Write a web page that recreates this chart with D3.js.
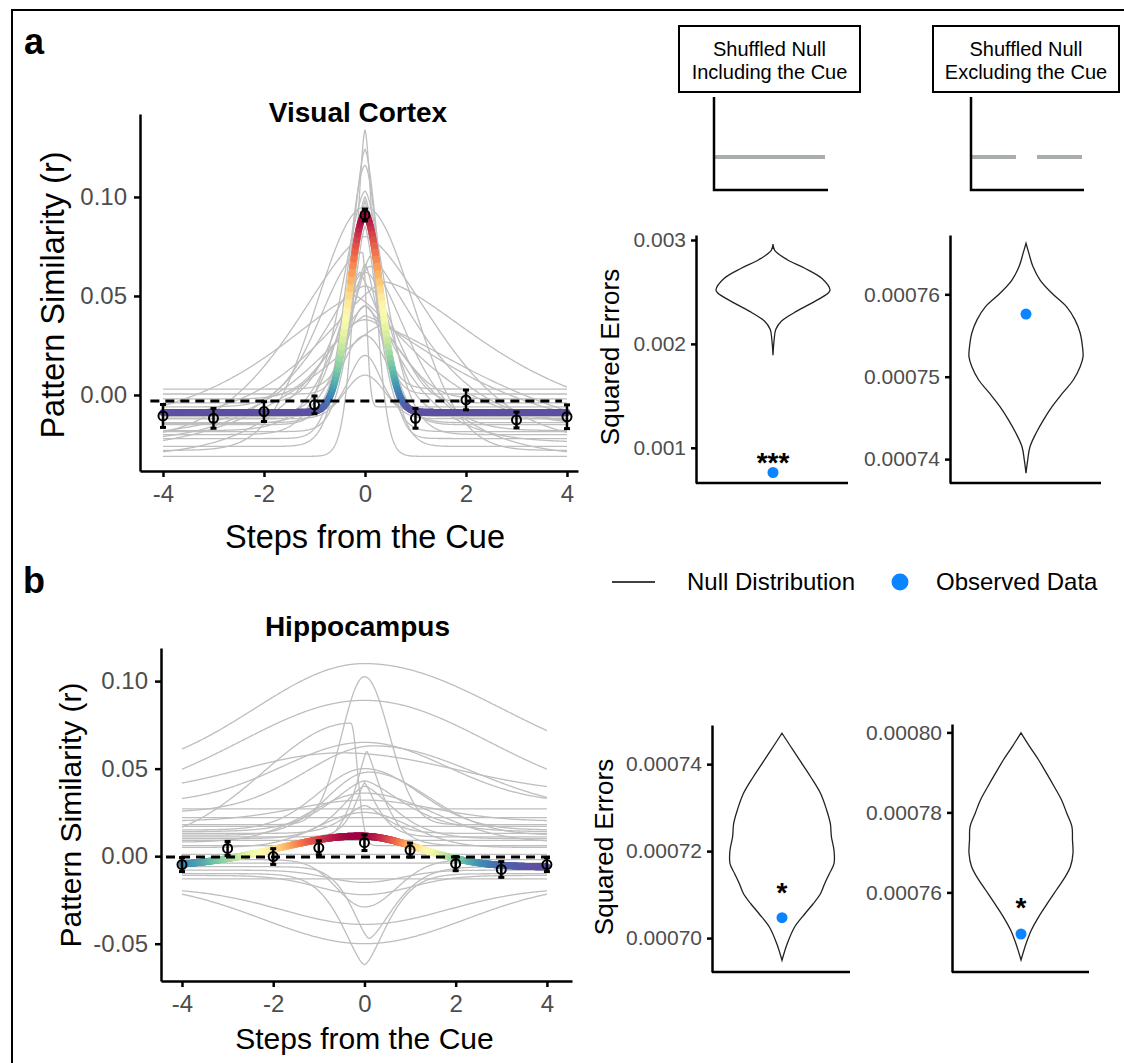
<!DOCTYPE html>
<html>
<head>
<meta charset="utf-8">
<script src="https://cdn.jsdelivr.net/npm/d3@7"></script>
<style>
  body { margin: 0; background: #fff; }
  text { font-family: "Liberation Sans", Arial, sans-serif; }
</style>
</head>
<body>
<div id="chart"></div>
<script>
// ---- data ----
const steps = [-4, -3, -2, -1, 0, 1, 2, 3, 4];

// group means and error bars
const visMean = [-0.0106, -0.0118, -0.0084, -0.005, 0.0909, -0.0118, -0.0025, -0.0126, -0.011];
const visErr = [0.0058, 0.005, 0.005, 0.0045, 0.003, 0.005, 0.005, 0.004, 0.006];
const hipMean = [-0.0048, 0.0044, -0.0002, 0.0048, 0.0077, 0.0035, -0.0043, -0.0076, -0.0048];
const hipErr = [0.004, 0.004, 0.0045, 0.004, 0.0045, 0.004, 0.004, 0.0045, 0.004];
const visChance = -0.003;
const hipChance = -0.0005;

// fitted curves: [baseline, peak, centre, width left, width right, shape]
const visFit = [-0.0088, 0.0909, 0, 0.31, 0.31, 2];
const hipFit = [-0.0062, 0.0115, -0.1, 1.8, 1.3, 2];

// per-subject fits, same columns
const visSubjects = [
  [-0.031, 0.134, 0, 0.18, 0.18, 1.6],
  [-0.026, 0.124, 0, 0.3, 0.3, 1.6],
  [-0.022, 0.116, 0, 0.35, 0.3, 1.8],
  [-0.020, 0.103, 0, 0.45, 0.4, 1.6],
  [-0.014, 0.100, 0, 0.3, 0.3, 1.5],
  [-0.028, 0.095, 0, 0.95, 0.95, 2],
  [-0.011, 0.098, 0, 0.22, 0.22, 1.4],
  [-0.006, 0.072, -0.05, 0.8, 0.08, 2],
  [-0.024, 0.080, 0, 1.3, 1.3, 1.6],
  [-0.018, 0.065, 0.1, 0.6, 0.7, 1.6],
  [0.003, 0.066, 0, 0.25, 0.25, 1.5],
  [-0.009, 0.062, 0, 0.5, 0.5, 2],
  [-0.013, 0.057, 0.4, 1.2, 1.8, 1.5],
  [-0.004, 0.055, 0, 0.6, 0.6, 2],
  [-0.016, 0.050, -0.2, 1.5, 1.1, 1.4],
  [0.0005, 0.045, 0, 0.35, 0.35, 2],
  [-0.021, 0.040, 0, 1.0, 1.6, 1.3],
  [-0.002, 0.038, 0, 0.7, 0.7, 2],
  [-0.029, 0.035, 0.3, 1.3, 2.0, 1.3],
  [-0.015, 0.030, 0, 0.5, 0.5, 2],
  [-0.008, 0.020, 0, 0.3, 0.3, 2],
  [-0.012, 0.010, 0, 0.4, 0.4, 2],
  [-0.024, 0.062, -0.1, 0.8, 0.6, 1.2],
  [-0.031, 0.045, 0, 0.9, 0.9, 1.3],
  [-0.0185, 0.085, 0, 0.25, 0.25, 1.5],
  [-0.0145, 0.070, 0.1, 0.4, 0.9, 1.4],
];

const hipSubjects = [
  [0.045, 0.110, 0, 2.4, 3.0, 2],
  [0.030, 0.089, 0, 2.7, 2.7, 2],
  [0.018, 0.1025, 0, 0.5, 0.55, 2],
  [0.006, 0.076, -0.3, 1.9, 0.15, 2],
  [0.030, 0.065, 0, 1.8, 1.8, 2],
  [0.025, 0.063, 0.2, 1.5, 2.2, 2],
  [0.035, 0.059, -0.5, 2.2, 2.5, 2],
  [0.015, 0.050, 0, 1.0, 1.2, 2],
  [0.012, 0.048, 0.1, 0.9, 1.3, 2],
  [0.014, 0.043, 0, 0.7, 0.8, 1.5],
  [0.010, 0.040, 0, 0.5, 0.6, 1.5],
  [0.008, 0.036, 0, 1.2, 1.5, 2],
  [0.020, 0.032, 0, 1.5, 1.5, 2],
  [0.027, 0.027, 0, 1, 1, 2],
  [0.017, 0.017, 0, 1, 1, 2],
  [0.013, 0.029, 0, 0.4, 0.4, 1.5],
  [0.005, 0.025, 0, 1.0, 1.0, 2],
  [0.001, 0.001, 0, 1, 1, 2],
  [0.022, 0.022, 0, 1, 1, 2],
  [-0.004, -0.004, 0, 1, 1, 2],
  [-0.008, -0.015, 0, 0.8, 0.8, 2],
  [-0.011, -0.022, 0, 1, 1, 2],
  [-0.015, -0.050, 0, 2.2, 2.2, 2],
  [-0.018, -0.039, 0, 1.8, 1.8, 2],
  [-0.010, -0.062, 0, 0.45, 0.45, 1.5],
  [-0.006, -0.047, 0.1, 0.35, 0.5, 1.5],
  [-0.002, -0.029, 0, 0.6, 0.7, 2],
  [0.009, 0.009, 0, 1, 1, 2],
  [0.006, 0.060, 0.05, 0.25, 0.3, 1.3],
  [0.011, 0.042, 0, 0.2, 0.25, 1.3],
  [-0.013, -0.013, 0, 1, 1, 2],
];

// null distributions (outline: value, relative density) and observed errors
const inclVisVals = [0.00296, 0.00290, 0.00281, 0.00273, 0.00263, 0.00252, 0.00249, 0.00239, 0.00230, 0.00222, 0.00214, 0.00204, 0.00189];
const inclVisDens = [0, 0.03, 0.25, 0.55, 0.86, 1.0, 0.97, 0.67, 0.37, 0.15, 0.05, 0.02, 0];
const exclVisVals = [0.0007662, 0.0007650, 0.0007634, 0.0007617, 0.0007601, 0.0007585, 0.0007569, 0.0007553, 0.0007537, 0.0007524, 0.0007512, 0.0007496, 0.0007480, 0.0007464, 0.0007448, 0.0007432, 0.0007415, 0.0007399, 0.0007383];
const exclVisDens = [0, 0.05, 0.12, 0.25, 0.46, 0.71, 0.86, 0.95, 0.99, 1.0, 0.95, 0.83, 0.64, 0.46, 0.31, 0.18, 0.07, 0.03, 0];
const inclHipVals = [0.0007471, 0.000744, 0.0007409, 0.0007371, 0.0007333, 0.0007294, 0.0007263, 0.0007233, 0.0007202, 0.0007171, 0.0007148, 0.0007125, 0.0007102, 0.0007079, 0.0007056, 0.0007025, 0.0006987, 0.0006949];
const inclHipDens = [0, 0.17, 0.34, 0.55, 0.74, 0.86, 0.93, 0.95, 1.0, 1.0, 0.91, 0.82, 0.74, 0.6, 0.44, 0.24, 0.1, 0];
const exclHipVals = [0.0007999, 0.0007964, 0.0007931, 0.0007898, 0.0007864, 0.0007831, 0.0007798, 0.0007764, 0.0007731, 0.0007698, 0.0007664, 0.0007639, 0.0007606, 0.0007573, 0.0007539, 0.0007506, 0.0007473, 0.0007431];
const exclHipDens = [0, 0.17, 0.34, 0.49, 0.64, 0.78, 0.88, 0.98, 0.99, 1.0, 0.95, 0.85, 0.68, 0.51, 0.34, 0.2, 0.1, 0];
const observed = { inclVis: 0.000762, exclVis: 0.0007576, inclHip: 0.0007047, exclHip: 0.0007496 };
const stars = { inclVis: "***", exclVis: "", inclHip: "*", exclHip: "*" };
// star annotation position in data units of each violin axis
const starAt = { inclVis: 0.000767, exclVis: 0, inclHip: 0.0007082, exclHip: 0.0007538 };

const visYTicks = [0, 0.05, 0.1];
const hipYTicks = [-0.05, 0, 0.05, 0.1];
const xTicks = [-4, -2, 0, 2, 4];

// ---- drawing ----
const W = 1124, H = 1063;
const FONT = '"Liberation Sans", Arial, sans-serif';
const svg = d3.select("#chart").append("svg")
  .attr("width", W).attr("height", H).style("background", "#fff");

svg.append("path").attr("d", "M12,1063V10H1124")
  .attr("fill", "none").attr("stroke", "#000").attr("stroke-width", 2);

svg.append("text").attr("x", 24).attr("y", 54).text("a")
  .attr("font-size", 36).attr("font-weight", "bold");
svg.append("text").attr("x", 23).attr("y", 593).text("b")
  .attr("font-size", 36).attr("font-weight", "bold");

const curveAt = (p, x) => {
  const [base, peak, c, sL, sR, pw] = p;
  const s = x < c ? sL : sR;
  return base + (peak - base) * Math.exp(-0.5 * Math.pow(Math.abs(x - c) / s, pw));
};
const grid = d3.range(-4, 4.0001, 0.02);

const styleAxis = (g, size) => {
  g.attr("font-family", FONT).attr("font-size", size);
  g.selectAll("path, line").attr("stroke", "#000").attr("stroke-width", 2.5);
  g.selectAll("text").attr("fill", "#4d4d4d");
};

function drawLinePanel(cfg) {
  const { x, y, yTicks, subjects, fit, mean, err, chance, dash, title, titleY, ylab, xlabY, labSize } = cfg;
  const g = svg.append("g");
  const line = d3.line().x((d) => x(d[0])).y((d) => y(d[1]));

  g.selectAll(".subj").data(subjects).join("path")
    .attr("d", (p) => line(grid.map((v) => [v, curveAt(p, v)])))
    .attr("fill", "none").attr("stroke", "#bebebe").attr("stroke-width", 1.3);

  const fy = grid.map((v) => [v, curveAt(fit, v)]);
  const [lo, hi] = d3.extent(fy, (d) => d[1]);
  const col = (v) => d3.interpolateSpectral(1 - (v - lo) / (hi - lo));
  g.selectAll(".seg").data(d3.pairs(fy)).join("line")
    .attr("x1", (d) => x(d[0][0])).attr("y1", (d) => y(d[0][1]))
    .attr("x2", (d) => x(d[1][0])).attr("y2", (d) => y(d[1][1]))
    .attr("stroke", (d) => col((d[0][1] + d[1][1]) / 2))
    .attr("stroke-width", 7).attr("stroke-linecap", "round");

  g.append("line")
    .attr("x1", x(dash[0])).attr("x2", x(dash[1]))
    .attr("y1", y(chance)).attr("y2", y(chance))
    .attr("stroke", "#000").attr("stroke-width", 3).attr("stroke-dasharray", "9,6");

  const pts = g.selectAll(".pt").data(steps).join("g");
  pts.append("line")
    .attr("x1", (d) => x(d)).attr("x2", (d) => x(d))
    .attr("y1", (d, i) => y(mean[i] - err[i])).attr("y2", (d, i) => y(mean[i] + err[i]))
    .attr("stroke", "#000").attr("stroke-width", 2.5);
  [-1, 1].forEach((s) => {
    pts.append("line")
      .attr("x1", (d) => x(d) - 3).attr("x2", (d) => x(d) + 3)
      .attr("y1", (d, i) => y(mean[i] + s * err[i])).attr("y2", (d, i) => y(mean[i] + s * err[i]))
      .attr("stroke", "#000").attr("stroke-width", 3);
  });
  pts.append("circle")
    .attr("cx", (d) => x(d)).attr("cy", (d, i) => y(mean[i])).attr("r", 4.5)
    .attr("fill", "none").attr("stroke", "#000").attr("stroke-width", 2);

  const xr = x.range(), yr = y.range();
  g.append("g").attr("transform", `translate(0,${yr[0]})`)
    .call(d3.axisBottom(x).tickValues(xTicks).tickFormat((d) => String(d)).tickSize(6).tickPadding(8).tickSizeOuter(0))
    .call(styleAxis, 24);
  g.append("g").attr("transform", `translate(${xr[0]},0)`)
    .call(d3.axisLeft(y).tickValues(yTicks).tickFormat((d) => d.toFixed(2)).tickSize(6).tickPadding(7).tickSizeOuter(0))
    .call(styleAxis, 24);

  svg.append("text").attr("x", x(0) - 7).attr("y", titleY).attr("text-anchor", "middle")
    .attr("font-size", 28).attr("font-weight", "bold").text(title);
  svg.append("text").attr("x", x(0)).attr("y", xlabY).attr("text-anchor", "middle")
    .attr("font-size", labSize).text("Steps from the Cue");
  svg.append("text").attr("transform", `translate(${ylab[0]},${ylab[1]}) rotate(-90)`)
    .attr("text-anchor", "middle").attr("dy", "0.35em").attr("font-size", labSize).text("Pattern Similarity (r)");
}

drawLinePanel({
  x: d3.scaleLinear().domain([-4.455, 4.218]).range([140, 578]),
  y: d3.scaleLinear().domain([-0.0384, 0.1419]).range([471, 114]),
  yTicks: visYTicks, subjects: visSubjects, fit: visFit,
  mean: visMean, err: visErr, chance: visChance, dash: [-4.25, 3.9],
  title: "Visual Cortex", titleY: 122, ylab: [53, 295], xlabY: 548, labSize: 32.5,
});

drawLinePanel({
  x: d3.scaleLinear().domain([-4.46, 4.55]).range([161, 572]),
  y: d3.scaleLinear().domain([-0.0713, 0.1189]).range([981, 648]),
  yTicks: hipYTicks, subjects: hipSubjects, fit: hipFit,
  mean: hipMean, err: hipErr, chance: hipChance, dash: [-4.35, 4.1],
  title: "Hippocampus", titleY: 636, ylab: [70, 815], xlabY: 1049, labSize: 30,
});

function drawViolin(cfg) {
  const { left, right, bottom, y, ticks, digits, center, halfW, vals, dens, obs, star, starY, ylab } = cfg;
  const g = svg.append("g");
  const w = d3.scaleLinear().domain([0, 1]).range([0, halfW]);
  const rows = vals.map((v, i) => [v, dens[i]]);
  g.append("path")
    .attr("d", d3.area().curve(d3.curveCatmullRom)
      .y((d) => y(d[0])).x0((d) => center - w(d[1])).x1((d) => center + w(d[1]))(rows))
    .attr("fill", "none").attr("stroke", "#222").attr("stroke-width", 1.3);
  g.append("circle").attr("cx", center).attr("cy", y(obs)).attr("r", 5.5).attr("fill", "#0b84ff");
  if (star) {
    g.append("text").attr("x", center).attr("y", y(starY)).attr("text-anchor", "middle")
      .attr("font-size", 28).attr("font-weight", "bold").text(star);
  }
  g.append("g").attr("transform", `translate(${left},0)`)
    .call(d3.axisLeft(y).tickValues(ticks).tickFormat((d) => d.toFixed(digits)).tickSize(5).tickPadding(5).tickSizeOuter(0))
    .call(styleAxis, 21);
  g.append("line").attr("x1", left).attr("x2", right).attr("y1", bottom).attr("y2", bottom)
    .attr("stroke", "#000").attr("stroke-width", 2.5);
  if (ylab) {
    svg.append("text").attr("transform", `translate(${ylab[0]},${ylab[1]}) rotate(-90)`)
      .attr("text-anchor", "middle").attr("dy", "0.35em").attr("font-size", 26).text("Squared Errors");
  }
}

drawViolin({
  left: 696, right: 848, bottom: 483,
  y: d3.scaleLinear().domain([0.000661, 0.003048]).range([483, 235]),
  ticks: [0.001, 0.002, 0.003], digits: 3, center: 773, halfW: 57,
  vals: inclVisVals, dens: inclVisDens, obs: observed.inclVis,
  star: stars.inclVis, starY: starAt.inclVis, ylab: [610, 357],
});
drawViolin({
  left: 950, right: 1101, bottom: 483,
  y: d3.scaleLinear().domain([0.0007371, 0.0007672]).range([483, 235]),
  ticks: [0.00074, 0.00075, 0.00076], digits: 5, center: 1026, halfW: 57,
  vals: exclVisVals, dens: exclVisDens, obs: observed.exclVis,
  star: stars.exclVis, starY: starAt.exclVis,
});
drawViolin({
  left: 712, right: 850, bottom: 972,
  y: d3.scaleLinear().domain([0.0006922, 0.000749]).range([972, 725]),
  ticks: [0.0007, 0.00072, 0.00074], digits: 5, center: 782, halfW: 52,
  vals: inclHipVals, dens: inclHipDens, obs: observed.inclHip,
  star: stars.inclHip, starY: starAt.inclHip, ylab: [604, 847],
});
drawViolin({
  left: 952, right: 1089, bottom: 972,
  y: d3.scaleLinear().domain([0.0007401, 0.0008021]).range([972, 724]),
  ticks: [0.00076, 0.00078, 0.0008], digits: 5, center: 1021, halfW: 52,
  vals: exclHipVals, dens: exclHipDens, obs: observed.exclHip,
  star: stars.exclHip, starY: starAt.exclHip,
});

// schematic headers
const headers = [
  { x0: 679, x1: 860, lines: ["Shuffled Null", "Including the Cue"], ax: 714, axEnd: 828, gaps: [[714, 825]] },
  { x0: 933, x1: 1119, lines: ["Shuffled Null", "Excluding the Cue"], ax: 971, axEnd: 1084, gaps: [[971, 1016], [1037, 1082]] },
];
headers.forEach((h) => {
  const g = svg.append("g");
  g.append("rect").attr("x", h.x0).attr("y", 26).attr("width", h.x1 - h.x0).attr("height", 66)
    .attr("fill", "#fff").attr("stroke", "#000").attr("stroke-width", 2);
  h.lines.forEach((t, i) => {
    g.append("text").attr("x", (h.x0 + h.x1) / 2).attr("y", 56 + i * 23)
      .attr("text-anchor", "middle").attr("font-size", 20).text(t);
  });
  h.gaps.forEach(([a, b]) => {
    g.append("line").attr("x1", a).attr("x2", b).attr("y1", 157).attr("y2", 157)
      .attr("stroke", "#a9aeac").attr("stroke-width", 4);
  });
  g.append("path").attr("d", `M${h.ax},97V190H${h.axEnd}`)
    .attr("fill", "none").attr("stroke", "#000").attr("stroke-width", 2.5);
});

// legend
const leg = svg.append("g");
leg.append("line").attr("x1", 612).attr("x2", 655).attr("y1", 582).attr("y2", 582)
  .attr("stroke", "#000").attr("stroke-width", 1.5);
leg.append("text").attr("x", 687).attr("y", 590).attr("font-size", 24).text("Null Distribution");
leg.append("circle").attr("cx", 900).attr("cy", 582).attr("r", 8.5).attr("fill", "#0b84ff");
leg.append("text").attr("x", 936).attr("y", 590).attr("font-size", 24).text("Observed Data");
</script>
</body>
</html>
